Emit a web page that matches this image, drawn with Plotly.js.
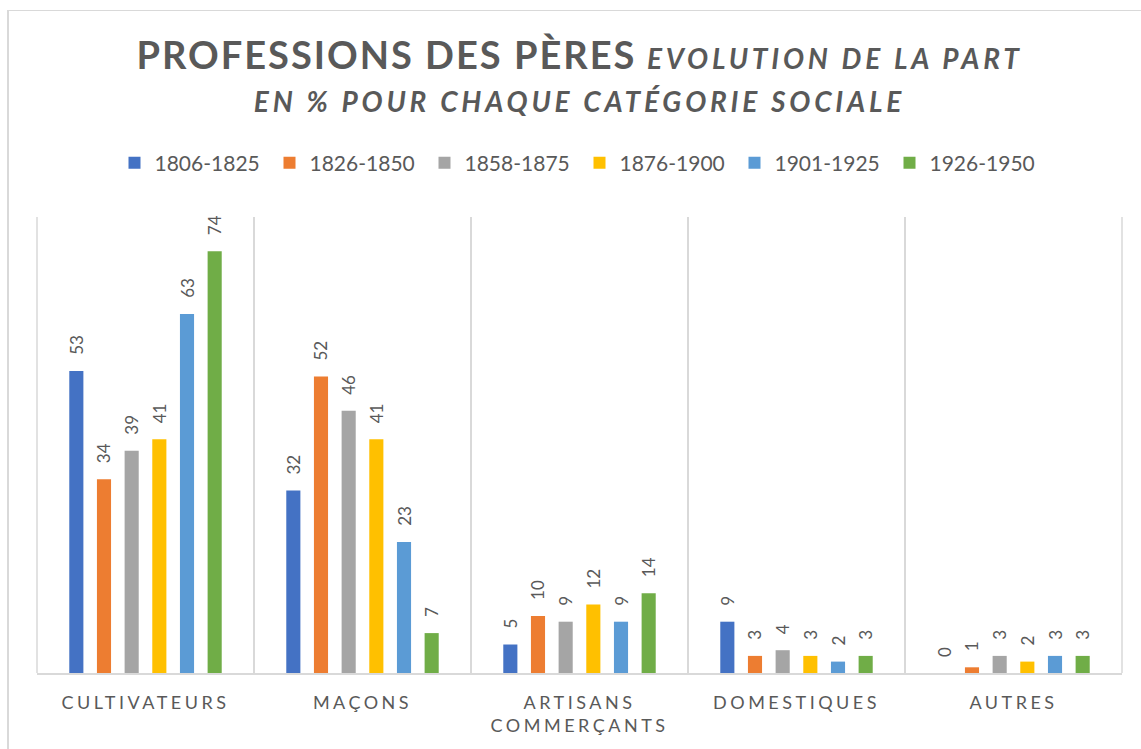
<!DOCTYPE html>
<html>
<head>
<meta charset="utf-8">
<script src="https://cdn.plot.ly/plotly-3.0.1.min.js"></script>
<style>
  html, body { margin: 0; padding: 0; background: #fff; overflow: hidden; }
  #chart { width: 1141px; height: 749px; }
  #frame { position: absolute; left: 7px; top: 10px; width: 2000px; height: 2000px;
           border-left: 2px solid #d9d9d9; border-top: 1px solid #d9d9d9; pointer-events: none; }
  .gtitle { letter-spacing: 2px; }
  .xtick text { letter-spacing: 3.5px; }
</style>
</head>
<body>
<div id="chart"></div>
<div id="frame"></div>
<script>
const categories = ["CULTIVATEURS", "MAÇONS", "ARTISANS<br>COMMERÇANTS", "DOMESTIQUES", "AUTRES"];
const periods = ["1806-1825", "1826-1850", "1858-1875", "1876-1900", "1901-1925", "1926-1950"];
const colors = ["#4472C4", "#ED7D31", "#A5A5A5", "#FFC000", "#5B9BD5", "#70AD47"];

const v1806_1825 = [53, 32, 5, 9, 0];
const v1826_1850 = [34, 52, 10, 3, 1];
const v1858_1875 = [39, 46, 9, 4, 3];
const v1876_1900 = [41, 41, 12, 3, 2];
const v1901_1925 = [63, 23, 9, 2, 3];
const v1926_1950 = [74, 7, 14, 3, 3];
const series = [v1806_1825, v1826_1850, v1858_1875, v1876_1900, v1901_1925, v1926_1950];

const FONT = "Lato, 'Open Sans', sans-serif";
const pad = "\u00a0\u00a0\u00a0";

const traces = series.map((vals, i) => ({
  type: "bar",
  name: periods[i],
  x: categories,
  y: vals,
  marker: { color: colors[i], line: { width: 0 } },
  text: vals.map(v => pad + v),
  textposition: "outside",
  textangle: -90,
  constraintext: "none",
  cliponaxis: false,
  textfont: { family: FONT, size: 17, color: "#595959" },
  hoverinfo: "x+y+name"
}));

const IT = "font-size:28px;letter-spacing:3.8px";

const layout = {
  width: 1141,
  height: 749,
  paper_bgcolor: "#ffffff",
  plot_bgcolor: "#ffffff",
  margin: { l: 37, r: 19, t: 217, b: 76 },
  barmode: "group",
  bargap: 0.235,
  bargroupgap: 0.49,
  font: { family: FONT, color: "#595959" },
  title: {
    text: "<span style='font-size:38px'><b>PROFESSIONS DES PÈRES</b></span> <span style='" + IT + "'><b><i>EVOLUTION DE LA PART</i></b></span><br><span style='" + IT + "'><b><i>EN % POUR CHAQUE CATÉGORIE SOCIALE</i></b></span>",
    font: { family: FONT, size: 33, color: "#595959" },
    x: 0.5, xref: "paper", xanchor: "center",
    y: 1 - 69 / 749, yref: "container", yanchor: "top"
  },
  showlegend: true,
  legend: {
    orientation: "h",
    x: 0.5, xanchor: "center",
    y: 1.118, yanchor: "middle",
    font: { family: FONT, size: 21, color: "#595959" },
    entrywidth: 110, entrywidthmode: "pixels",
    itemwidth: 30,
    traceorder: "normal"
  },
  xaxis: {
    type: "category",
    tickson: "boundaries",
    showgrid: true,
    gridcolor: "#d9d9d9",
    gridwidth: 1.5,
    showline: true,
    linecolor: "#d9d9d9",
    linewidth: 2,
    ticks: "",
    ticklabelstandoff: 12,
    tickfont: { family: FONT, size: 18, color: "#595959" },
    zeroline: false,
    fixedrange: true
  },
  yaxis: {
    range: [0, 80],
    visible: false,
    showgrid: false,
    zeroline: false,
    fixedrange: true
  },
  shapes: [
    { type: "line", xref: "paper", yref: "paper", x0: 0, x1: 0, y0: 0, y1: 1, layer: "below",
      line: { color: "#d9d9d9", width: 1.5 } },
    { type: "line", xref: "paper", yref: "paper", x0: 1, x1: 1, y0: 0, y1: 1, layer: "below",
      line: { color: "#d9d9d9", width: 1.5 } }
  ]
};

Plotly.newPlot("chart", traces, layout, { displayModeBar: false, staticPlot: true });
</script>
</body>
</html>
